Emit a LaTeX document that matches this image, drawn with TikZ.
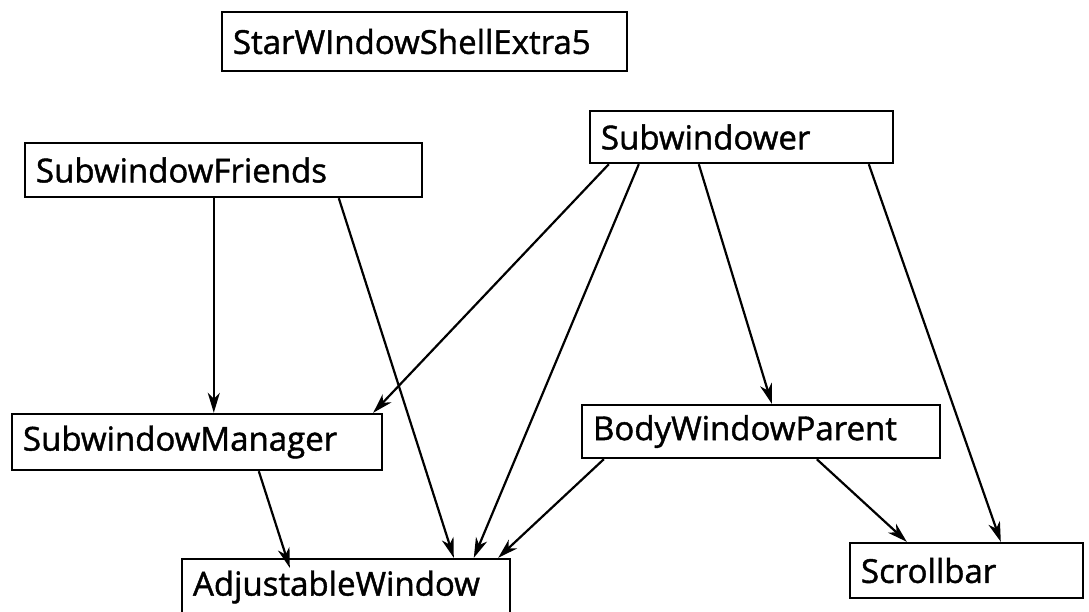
\documentclass[tikz,border=0pt]{standalone}
\usepackage{fontspec}
\newfontfamily\boxfont[FakeBold=1.3]{Open Sans}
\usetikzlibrary{arrows.meta}

\tikzset{
  box/.style={draw, line width=2.4pt, inner xsep=11pt, inner ysep=0pt,
    align=left, font=\boxfont\fontsize{33}{35}\selectfont},
  link/.style={line width=2.2pt,
    -{Stealth[length=20pt,width=12pt,inset=6pt]}}
}

\begin{document}
\begin{tikzpicture}[x=1pt,y=-1pt]
  \useasboundingbox (0,0) rectangle (1089,611);

  % class boxes
  \node[box, minimum height=59pt, text width=383pt] (sw5) at (424.5,41.5) {StarWIndowShellExtra5};
  \node[box, minimum height=54pt, text width=375pt] (sf)  at (223.5,170)  {SubwindowFriends};
  \node[box, minimum height=52pt, text width=281pt] (sub) at (741.5,137)  {Subwindower};
  \node[box, minimum height=56pt, text width=348pt] (sm)  at (197,442)    {SubwindowManager};
  \node[box, minimum height=53pt, text width=336pt] (bwp) at (761,431.5)  {BodyWindowParent};
  \node[box, minimum height=56pt, text width=306pt] (aw)  at (346,587)    {AdjustableWindow};
  \node[box, minimum height=55pt, text width=211pt] (sb)  at (966.5,570.5){Scrollbar};

  % dependency arrows
  \draw[link] ([xshift=190pt]sf.south west)  -- ([xshift=203pt]sm.north west);
  \draw[link] ([xshift=315pt]sf.south west)  -- ([xshift=273pt]aw.north west);
  \draw[link] ([xshift=20pt]sub.south west)  -- ([xshift=-10pt]sm.north east);
  \draw[link] ([xshift=50pt]sub.south west)  -- ([xshift=293pt]aw.north west);
  \draw[link] ([xshift=110pt]sub.south west) -- ([xshift=191pt]bwp.north west);
  \draw[link] ([xshift=280pt]sub.south west) -- ([xshift=152pt]sb.north west);
  \draw[link] ([xshift=23pt]bwp.south west)  -- ([xshift=-13pt]aw.north east);
  \draw[link] ([xshift=236pt]bwp.south west) -- ([xshift=58pt]sb.north west);
  \draw[link] ([xshift=248pt]sm.south west)  -- ([xshift=109pt,yshift=-10pt]aw.north west);
\end{tikzpicture}
\end{document}
